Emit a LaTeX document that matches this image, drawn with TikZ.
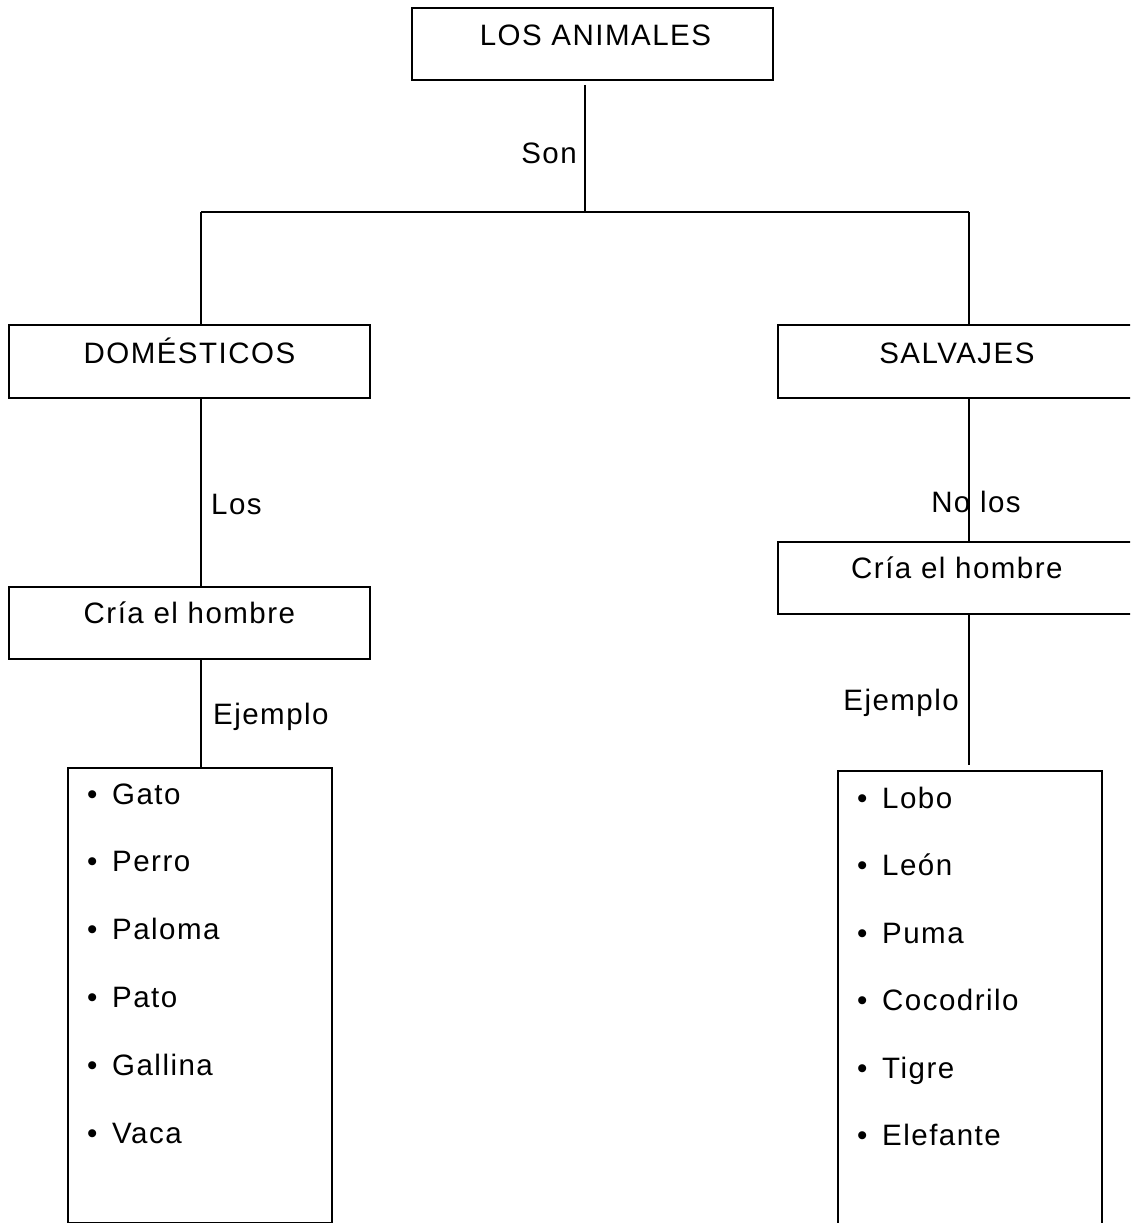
\documentclass[tikz,border=0pt]{standalone}
\usepackage{fontspec}
\setmainfont{Liberation Sans}[LetterSpace=5]
\begin{document}
\begin{tikzpicture}[x=1pt,y=-1pt,
  every node/.style={font=\fontsize{29.5}{34}\selectfont},
  cbox/.style={draw, line width=1.8pt, inner xsep=0pt, inner ysep=0pt,
    anchor=north west, minimum width=#1},
  lbox/.style={draw, line width=1.8pt, anchor=north west, inner sep=0pt},
  lbl/.style={inner sep=0pt},
  item/.style={inner sep=0pt, anchor=base west},
  conn/.style={line width=1.8pt}
]
\useasboundingbox (0,0) rectangle (1130,1223);
\clip (0,0) rectangle (1130,1223);

% boxes
\node[cbox=361, text height=38pt, text depth=34pt] (top) at (411,7) {\hspace*{6pt}LOS ANIMALES};
\node[cbox=361, text height=39pt, text depth=34pt] (dom) at (8,324) {DOMÉSTICOS};
\node[cbox=358, text height=39pt, text depth=34pt] (sal) at (777,324) {SALVAJES};
\node[cbox=361, text height=37pt, text depth=35pt] (cl) at (8,586) {Cría el hombre};
\node[cbox=358, text height=37pt, text depth=35pt] (cr) at (777,541) {Cría el hombre};
\node[lbox, minimum width=264pt, minimum height=455pt] (ll) at (67,767) {};
\node[lbox, minimum width=264pt, minimum height=470pt] (lr) at (837,770) {};

% junctions
\coordinate (jc) at (585,212);
\coordinate (jl) at (201,212);
\coordinate (jr) at (969,212);

% connectors
\draw[conn] ([yshift=-4pt]top.south -| jc) -- (jc);
\draw[conn] (jl) -- (jr);
\draw[conn] (jl) -- (jl |- dom.north);
\draw[conn] (jr) -- (jr |- sal.north);
\draw[conn] (jl |- dom.south) -- (jl |- cl.north);
\draw[conn] (jl |- cl.south) -- (jl |- ll.north);
\draw[conn] (jr |- sal.south) -- (jr |- cr.north);
\draw[conn] (jr |- cr.south) -- ([yshift=5pt]lr.north -| jr);

% labels
\node[lbl, anchor=base east] (son) at (577,163) {Son};
\node[lbl, anchor=base west] (los) at (211,514) {Los};
\node[lbl, anchor=base] (nolos) at (976,512) {No los};
\node[lbl, anchor=base west] (ejl) at (213,724) {Ejemplo};
\node[lbl, anchor=base east] (ejr) at (959,710) {Ejemplo};

% list items
\foreach \t [count=\i from 0] in {Gato,Perro,Paloma,Pato,Gallina,Vaca}
  \node[item] (li\i) at (87,{804+67.8*\i}) {\makebox[25pt][l]{•}\t};
\foreach \t [count=\i from 0] in {Lobo,León,Puma,Cocodrilo,Tigre,Elefante}
  \node[item] (ri\i) at (857,{808+67.5*\i}) {\makebox[25pt][l]{•}\t};
\end{tikzpicture}
\end{document}
